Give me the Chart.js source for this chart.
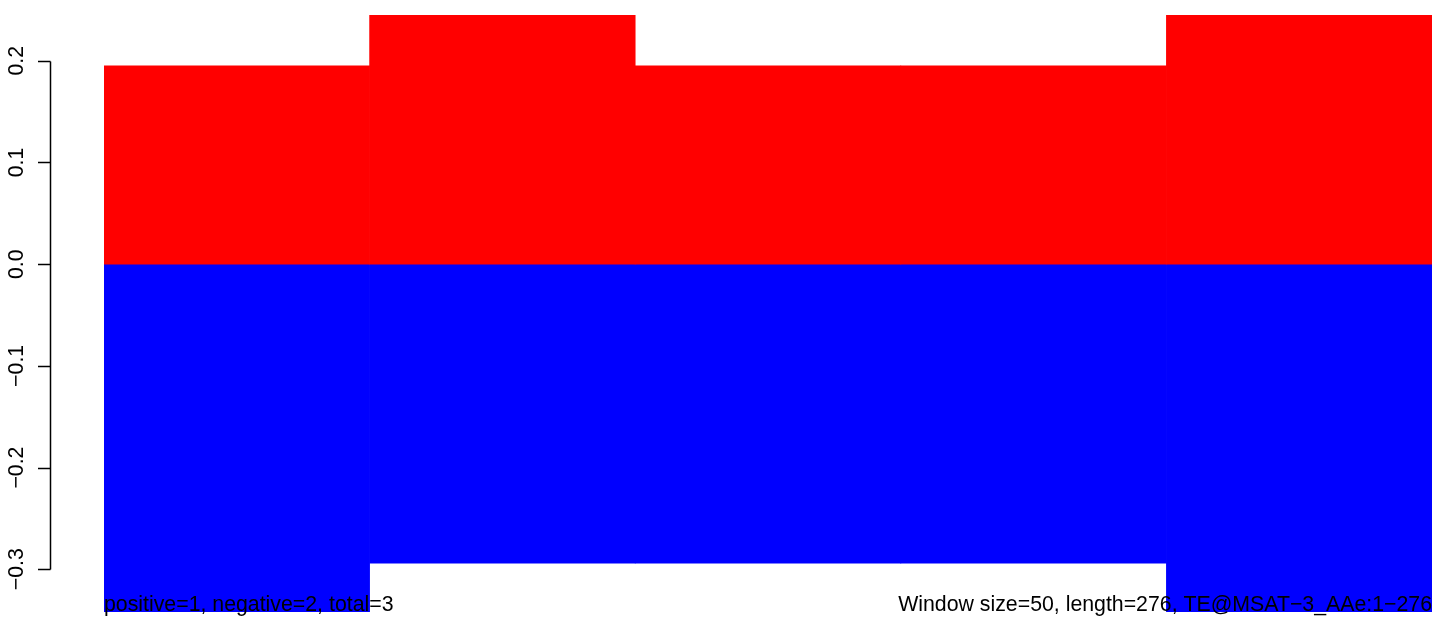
<!DOCTYPE html>
<html>
<head>
<meta charset="utf-8">
<script src="https://cdn.jsdelivr.net/npm/chart.js@4/dist/chart.umd.min.js"></script>
<style>
  html, body { margin: 0; padding: 0; background: #fff; }
  canvas { display: block; }
</style>
</head>
<body>
<canvas id="chart" width="1444" height="624"></canvas>
<script>
// windows along the sequence (size 50, length 276)
var windows = ['1-50', '51-100', '101-150', '151-200', '201-276'];
var positive = [0.195, 0.245, 0.195, 0.195, 0.245];
var negative = [-0.342, -0.294, -0.294, -0.294, -0.342];
var yTicks = [-0.3, -0.2, -0.1, 0.0, 0.1, 0.2];
var leftNote = 'positive=1, negative=2, total=3';
var rightNote = 'Window size=50, length=276, TE@MSAT\u22123_AAe:1\u2212276';

var FONT = '21.3px "Liberation Sans", Arial, sans-serif';

function fmt(v) {
    return v.toFixed(1).replace('-', '\u2212');
}

// R style axis + margin texts
var rAxis = {
    id: 'rAxis',
    afterDraw: function(chart) {
        var ctx = chart.ctx;
        var y = chart.scales.y;
        var area = chart.chartArea;
        var top = y.getPixelForValue(yTicks[yTicks.length - 1]);
        var bot = y.getPixelForValue(yTicks[0]);
        ctx.save();
        ctx.strokeStyle = '#000';
        ctx.lineWidth = 1.5;
        ctx.beginPath();
        ctx.moveTo(50.5, Math.round(top) + 0.5);
        ctx.lineTo(50.5, Math.round(bot) + 0.5);
        yTicks.forEach(function(t) {
            var py = Math.round(y.getPixelForValue(t)) + 0.5;
            ctx.moveTo(38, py);
            ctx.lineTo(50.5, py);
        });
        ctx.stroke();

        ctx.fillStyle = '#000';
        ctx.font = FONT;
        yTicks.forEach(function(t) {
            var py = y.getPixelForValue(t);
            ctx.save();
            ctx.translate(22.5, py);
            ctx.rotate(-Math.PI / 2);
            ctx.textAlign = 'center';
            ctx.textBaseline = 'alphabetic';
            ctx.fillText(fmt(t), 0, 0);
            ctx.restore();
        });

        ctx.textBaseline = 'alphabetic';
        ctx.textAlign = 'left';
        ctx.fillText(leftNote, area.left, 611);
        ctx.textAlign = 'right';
        ctx.fillText(rightNote, area.right, 611);
        ctx.restore();
    }
};

var allVals = positive.concat(negative);

new Chart(document.getElementById('chart'), {
    type: 'bar',
    data: {
        labels: windows,
        datasets: [{
            label: 'positive',
            data: positive,
            backgroundColor: '#FF0000',
            borderWidth: 0
        }, {
            label: 'negative',
            data: negative,
            backgroundColor: '#0000FF',
            borderWidth: 0
        }]
    },
    options: {
        responsive: false,
        animation: false,
        layout: { padding: { left: 104, right: 12, top: 15, bottom: 12 } },
        datasets: {
            bar: { categoryPercentage: 1, barPercentage: 1 }
        },
        plugins: {
            legend: { display: false },
            tooltip: { enabled: false }
        },
        scales: {
            x: { stacked: true, display: false },
            y: {
                stacked: true,
                display: false,
                min: Math.min.apply(null, allVals),
                max: Math.max.apply(null, allVals)
            }
        }
    },
    plugins: [rAxis]
});
</script>
</body>
</html>
